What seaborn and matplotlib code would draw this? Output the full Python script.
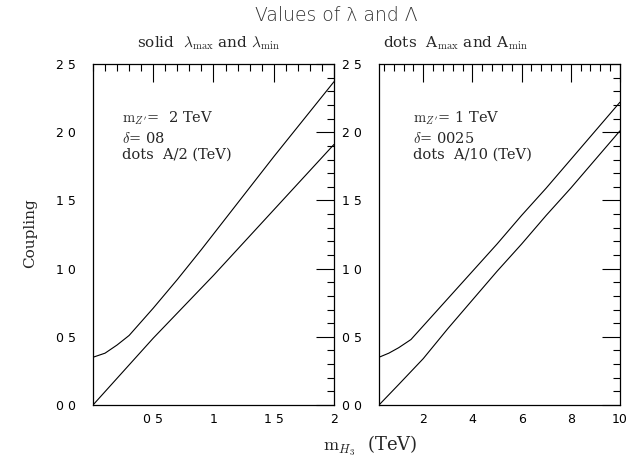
import matplotlib
matplotlib.use("Agg")
import matplotlib.pyplot as plt
import seaborn as sns
import pandas as pd
from matplotlib.ticker import MultipleLocator, FixedLocator, FixedFormatter

# left panel (m_Z' = 2 TeV), curves
left_x_upper = [0.0, 0.1, 0.2, 0.3, 0.4, 0.5, 0.7, 0.9, 1.2, 1.5, 1.8, 2.0]
left_y_upper = [0.35, 0.38, 0.44, 0.51, 0.61, 0.71, 0.92, 1.14, 1.48, 1.82, 2.15, 2.37]
left_x_lower = [0.0, 0.5, 1.0, 1.5, 2.0]
left_y_lower = [0.0, 0.49, 0.95, 1.43, 1.91]

# right panel (m_Z' = 1 TeV)
right_x_upper = [0.2, 0.6, 1.0, 1.5, 2.0, 2.5, 3.0, 4.0, 5.0, 6.0, 7.0, 8.0, 9.0, 10.0]
right_y_upper = [0.35, 0.38, 0.42, 0.48, 0.58, 0.68, 0.78, 0.98, 1.18, 1.39, 1.59, 1.80, 2.01, 2.22]
right_x_lower = [0.2, 1.0, 2.0, 3.0, 4.0, 5.0, 6.0, 7.0, 8.0, 9.0, 10.0]
right_y_lower = [0.0, 0.15, 0.34, 0.56, 0.77, 0.98, 1.18, 1.39, 1.59, 1.80, 2.01]

y_ticks = [0.0, 0.5, 1.0, 1.5, 2.0, 2.5]
y_ticklabels = ["0 0", "0 5", "1 0", "1 5", "2 0", "2 5"]
left_xticks = [0.5, 1.0, 1.5, 2.0]
left_xticklabels = ["0 5", "1", "1 5", "2"]
right_xticks = [2, 4, 6, 8, 10]
right_xticklabels = ["2", "4", "6", "8", "10"]

def frame(xs, ys, name):
    return pd.DataFrame({"x": xs, "y": ys, "curve": name})

left_df = pd.concat([frame(left_x_upper, left_y_upper, "max"),
                     frame(left_x_lower, left_y_lower, "min")])
right_df = pd.concat([frame(right_x_upper, right_y_upper, "max"),
                      frame(right_x_lower, right_y_lower, "min")])

sns.set_style("white")
plt.rcParams["font.family"] = ["DejaVu Serif"]
plt.rcParams["mathtext.fontset"] = "cm"

fig = plt.figure(figsize=(6.34, 4.62), dpi=100)
ax1 = fig.add_axes([0.1467, 0.1234, 0.380, 0.738])
ax2 = fig.add_axes([0.5978, 0.1234, 0.380, 0.738])

for ax, df, xlim, xt, xtl, minor in [
        (ax1, left_df, (0, 2), left_xticks, left_xticklabels, 0.1),
        (ax2, right_df, (0.2, 10), right_xticks, right_xticklabels, 0.4)]:
    sns.lineplot(data=df, x="x", y="y", units="curve", estimator=None,
                 color="black", lw=0.8, ax=ax, sort=False)
    ax.set_xlim(*xlim)
    ax.set_ylim(0, 2.5)
    ax.xaxis.set_major_locator(FixedLocator(xt))
    ax.xaxis.set_major_formatter(FixedFormatter(xtl))
    ax.xaxis.set_minor_locator(MultipleLocator(minor))
    ax.yaxis.set_major_locator(FixedLocator(y_ticks))
    ax.yaxis.set_major_formatter(FixedFormatter(y_ticklabels))
    ax.yaxis.set_minor_locator(MultipleLocator(0.1))
    ax.tick_params(which="both", direction="in", top=True, right=True,
                   width=0.8, colors="black", labelsize=9)
    ax.tick_params(which="major", length=13)
    ax.tick_params(axis="x", which="major", pad=6)
    ax.tick_params(axis="y", which="major", pad=12)
    ax.tick_params(which="minor", length=5)
    for tl in ax.get_xticklabels() + ax.get_yticklabels():
        tl.set_family("DejaVu Sans")
    for s in ax.spines.values():
        s.set_color("black")
        s.set_linewidth(0.9)
    ax.set_xlabel("")
    ax.set_ylabel("")

ann_size = 10.5
ax1.text(0.12, 0.840, r"$\mathrm{m}_{Z'}$=  2 TeV", transform=ax1.transAxes, fontsize=ann_size, va="center")
ax1.text(0.12, 0.783, r"$\delta$= 08", transform=ax1.transAxes, fontsize=ann_size, va="center")
ax1.text(0.12, 0.733, "dots  A/2 (TeV)", transform=ax1.transAxes, fontsize=ann_size, va="center")
ax2.text(0.14, 0.840, r"$\mathrm{m}_{Z'}$= 1 TeV", transform=ax2.transAxes, fontsize=ann_size, va="center")
ax2.text(0.14, 0.783, r"$\delta$= 0025", transform=ax2.transAxes, fontsize=ann_size, va="center")
ax2.text(0.14, 0.733, "dots  A/10 (TeV)", transform=ax2.transAxes, fontsize=ann_size, va="center")

fig.text(0.531, 0.967, "Values of λ and Λ", ha="center", va="center",
         fontsize=13.5, family="DejaVu Sans", fontweight="light", color="#333333")
fig.text(0.216, 0.907, r"solid  $\lambda_{\mathrm{max}}$ and $\lambda_{\mathrm{min}}$",
         ha="left", va="center", fontsize=11)
fig.text(0.604, 0.907, r"dots  A$_{\mathrm{max}}$ and A$_{\mathrm{min}}$",
         ha="left", va="center", fontsize=11)
fig.text(0.048, 0.495, "Coupling", rotation=90, ha="center", va="center", fontsize=11)
fig.text(0.584, 0.034, r"$\mathrm{m}_{H_3}$  (TeV)", ha="center", va="center", fontsize=13)

fig.savefig("out.png", dpi=100, facecolor="white")
